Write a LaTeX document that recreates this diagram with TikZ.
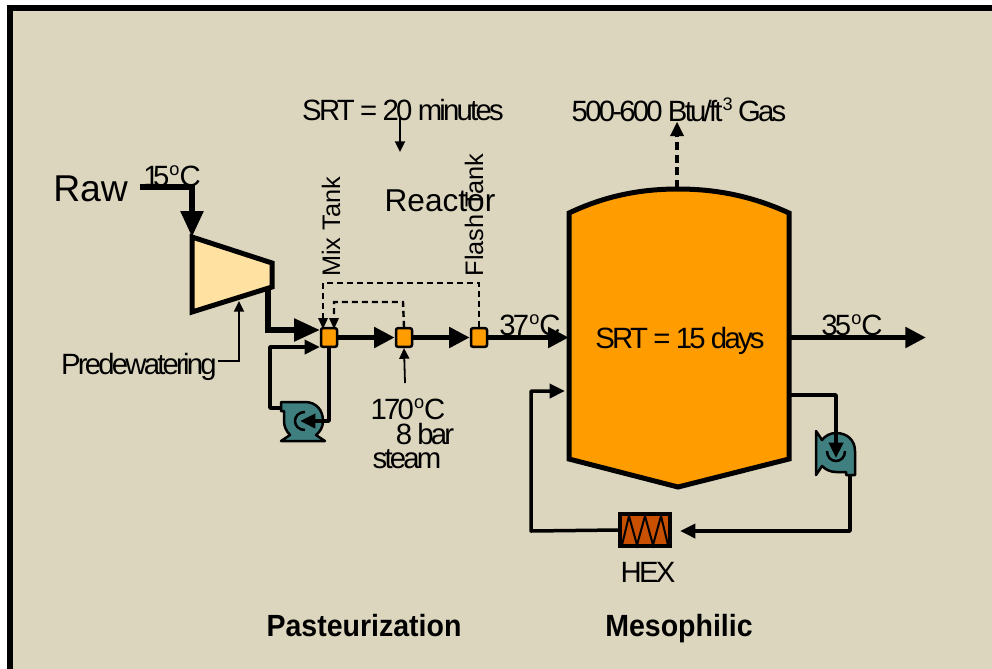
\documentclass[tikz,border=0pt]{standalone}
\usepackage{fontspec}
\setmainfont{Liberation Sans}
\newfontfamily\tightf[LetterSpace=-9.5]{Liberation Sans}
\newfontfamily\vtightf[LetterSpace=-22]{Liberation Sans}
\usetikzlibrary{arrows.meta,calc}
\definecolor{bgc}{HTML}{DDD6BF}
\definecolor{orangec}{HTML}{FF9C00}
\definecolor{creamc}{HTML}{FFE2A2}
\definecolor{tealc}{HTML}{3F7F80}
\definecolor{hexc}{HTML}{C85000}
\newcommand{\degs}{\raisebox{.36em}{\scalebox{.62}{o}}}
\tikzset{
  x=0.75pt,y=-0.75pt,
  px/.style={line width=#1*0.75pt},
  bigtip/.style={-{Triangle[length=19.5pt,width=16.5pt]}},
  midtip/.style={-{Triangle[length=15.5pt,width=15pt]}},
  smalltip/.style={-{Triangle[length=11.5pt,width=10.5pt]}},
  thintip/.style={-{Triangle[length=8pt,width=7.5pt]}},
  mainflow/.style={px=5.5,line join=miter},
  loopflow/.style={px=3.5,line join=round},
  thinflow/.style={px=1.8},
  dashflow/.style={px=2.4,dash pattern=on 4.5pt off 3pt},
  tankbox/.style={draw=black,fill=orangec,px=2.5,rounded corners=1.5pt,minimum width=12pt,minimum height=14pt,inner sep=0pt},
  label/.style={inner sep=0pt,font=\tightf\fontsize{22pt}{26pt}\selectfont,text=black},
  vlabel/.style={inner sep=0pt,font=\fontsize{19pt}{22pt}\selectfont,rotate=90,text=black},
  titlelabel/.style={inner sep=0pt,anchor=base,font=\bfseries\fontsize{23pt}{26pt}\selectfont,text=black},
  pumpshape/.style={draw=black,fill=tealc,px=2.5,line join=round},
}
\newcommand{\pumpbody}{%
  \path[pumpshape] (-22,-19) -- (2,-19) .. controls (13,-19) and (20,-11) .. (20,0)
     .. controls (20,6) and (17,11) .. (13,14) -- (22,20) -- (-22,20) -- (-13,14)
     .. controls (-17,10) and (-19,5) .. (-19,0) -- (-19,-10) -- (-22,-10) -- cycle;
  \draw[px=2.5] (2,-9) .. controls (-4,-9) and (-8,-5) .. (-8,0) .. controls (-8,5) and (-4,9) .. (2,9);
}
\begin{document}
\begin{tikzpicture}
\useasboundingbox (0,0) rectangle (992,668);
\fill[white] (0,0) rectangle (992,668);
\draw[fill=bgc,px=6] (10,8) rectangle (1010,690);

% named points
\coordinate (rawstart) at (140,187);
\coordinate (rawbend) at (192,187);
\coordinate (filtin) at (192,237);
\coordinate (filtout) at (268,287);
\coordinate (filtbend) at (268,330);
\coordinate (mixin) at (320,330);
\coordinate (loopin) at (320,347);
\coordinate (pumpAout) at (281,408);
\coordinate (loopcorner) at (270,408);
\coordinate (looptop) at (270,347);
\coordinate (pumpAtip) at (300,421);
\coordinate (recycorner) at (329,421);
\coordinate (steamfree) at (405,383);
\coordinate (srtfree) at (400,118);
\coordinate (srttip) at (400,152);
\coordinate (dashA) at (323,283);
\coordinate (dashB) at (334,302);
\coordinate (dashAr) at (479,283);
\coordinate (dashBr) at (403,302);
\coordinate (tipA) at (323,327);
\coordinate (tipB) at (334,327);
\coordinate (predefree) at (218,361);
\coordinate (precorner) at (239,361);
\coordinate (pretip) at (239,301);
\coordinate (gasfrom) at (677,188);
\coordinate (gasend) at (677,134);
\coordinate (outtip) at (926,337.5);
\coordinate (rb1) at (787,395);
\coordinate (rb2) at (836,395);
\coordinate (pumpBtip) at (836,458);
\coordinate (pumpBout) at (850,474);
\coordinate (hexcorner) at (850,531);
\coordinate (hexin) at (680,531);
\coordinate (hexcornerL) at (531,531);
\coordinate (retcorner) at (531,391);
\coordinate (rettip) at (565,391);

% filter and reactor
\draw[px=5,fill=creamc,line join=miter] (192,237) -- (272,263) -- (272,287) -- (192,312) -- cycle;
\draw[px=5,fill=orangec,line join=miter] (569,213) .. controls (605,196) and (640,189) .. (678,189)
   .. controls (716,189) and (752,196) .. (789,213) -- (789,459) -- (678,487) -- (569,459) -- cycle;
\node[inner sep=0pt,minimum width=165pt,minimum height=190pt] (reactor) at (679,337.5) {};

% vessels
\node[tankbox] (mix) at (329,337.5) {};
\node[tankbox] (tankB) at (404,337.5) {};
\node[tankbox] (tankC) at (479,337.5) {};

% pumps
\node[inner sep=0pt,minimum size=0pt] (pumpA) at (303,421) {};
\begin{scope}[shift={(pumpA)}]\pumpbody\end{scope}
\node[inner sep=0pt,minimum size=0pt] (pumpB) at (836,453) {};
\begin{scope}[cm={0,1,1,0,(pumpB)}]\pumpbody\end{scope}

% heat exchanger
\node[draw=black,fill=hexc,px=4,minimum width=37pt,minimum height=24pt,inner sep=0pt] (hex) at (645,530) {};
\draw[px=2] (622,545) -- (629,516) -- (637,545) -- (645,516) -- (653,545) -- (661,516) -- (668,545);

% connectors
\draw[mainflow,bigtip] (rawstart) -- (rawbend) -- (filtin);
\draw[mainflow,bigtip] (filtout) -- (filtbend) -- (mixin);
\draw[mainflow,midtip] (mix.east) -- (tankB.west);
\draw[mainflow,midtip] (tankB.east) -- (tankC.west);
\draw[mainflow,midtip] (tankC.east) -- (reactor.west);
\draw[mainflow,midtip] (reactor.east) -- (outtip);
\draw[loopflow,smalltip] (pumpAout) -- (loopcorner) -- (looptop) -- (loopin);
\draw[loopflow,smalltip] (mix.south) -- (recycorner) -- (pumpAtip);
\draw[loopflow,smalltip] (rb1) -- (rb2) -- (pumpBtip);
\draw[loopflow,smalltip] (pumpBout) -- (hexcorner) -- (hexin);
\draw[loopflow,smalltip] (hex.west) -- (hexcornerL) -- (retcorner) -- (rettip);
\draw[thinflow,thintip] (steamfree) -- (tankB.south);
\draw[thinflow,thintip] (srtfree) -- (srttip);
\draw[thinflow,thintip] (predefree) -- (precorner) -- (pretip);
\draw[dashflow] (tankC.north) -- (dashAr) -- (dashA) -- (tipA);
\draw[dashflow] (tankB.north) -- (dashBr) -- (dashB) -- (tipB);
\fill (318,318) -- (328,318) -- (323,329) -- cycle;
\fill (329,318) -- (339,318) -- (334,329) -- cycle;
\draw[px=4,dash pattern=on 6pt off 3.5pt] (gasfrom) -- (gasend);
\fill (670,136) -- (684,136) -- (677,122) -- cycle;

% labels
\node[inner sep=0pt,anchor=west,font=\fontsize{28pt}{32pt}\selectfont] (rawlab) at (53,189) {Raw};
\node[inner sep=0pt,font=\vtightf\fontsize{22pt}{26pt}\selectfont] (t15) at (172,176) {15\degs C};
\node[label] (srt20) at (403,110) {SRT = 20 minutes};
\node[label] (gas) at (679,110) {500-600 Btu/ft\raisebox{.36em}{\scalebox{.62}{3}} Gas};
\node[inner sep=0pt,font=\fontsize{23.7pt}{28pt}\selectfont,text=black] (reactorlab) at (440,201) {Reactor};
\node[vlabel] (mixlab) at (331,227) {Mix Tank};
\node[vlabel] (flashlab) at (474,215) {Flash Tank};
\node[label] (t37) at (530,325) {37\degs C};
\node[label] (t35) at (852,325) {35\degs C};
\node[label] (srt15) at (680,341) {SRT = 15 days};
\node[label,anchor=east] (pre) at (217,367) {Predewatering};
\node[label] (t170) at (408,409) {170\degs C};
\node[label] (bar) at (425,434) {8 bar};
\node[label] (steam) at (407,459) {steam};
\node[label] (hexlab) at (648,572) {HEX};
\node[titlelabel] (past) at (364,636) {\scalebox{.93}[1]{Pasteurization}};
\node[titlelabel] (meso) at (679,636) {\scalebox{.93}[1]{Mesophilic}};
\end{tikzpicture}
\end{document}
